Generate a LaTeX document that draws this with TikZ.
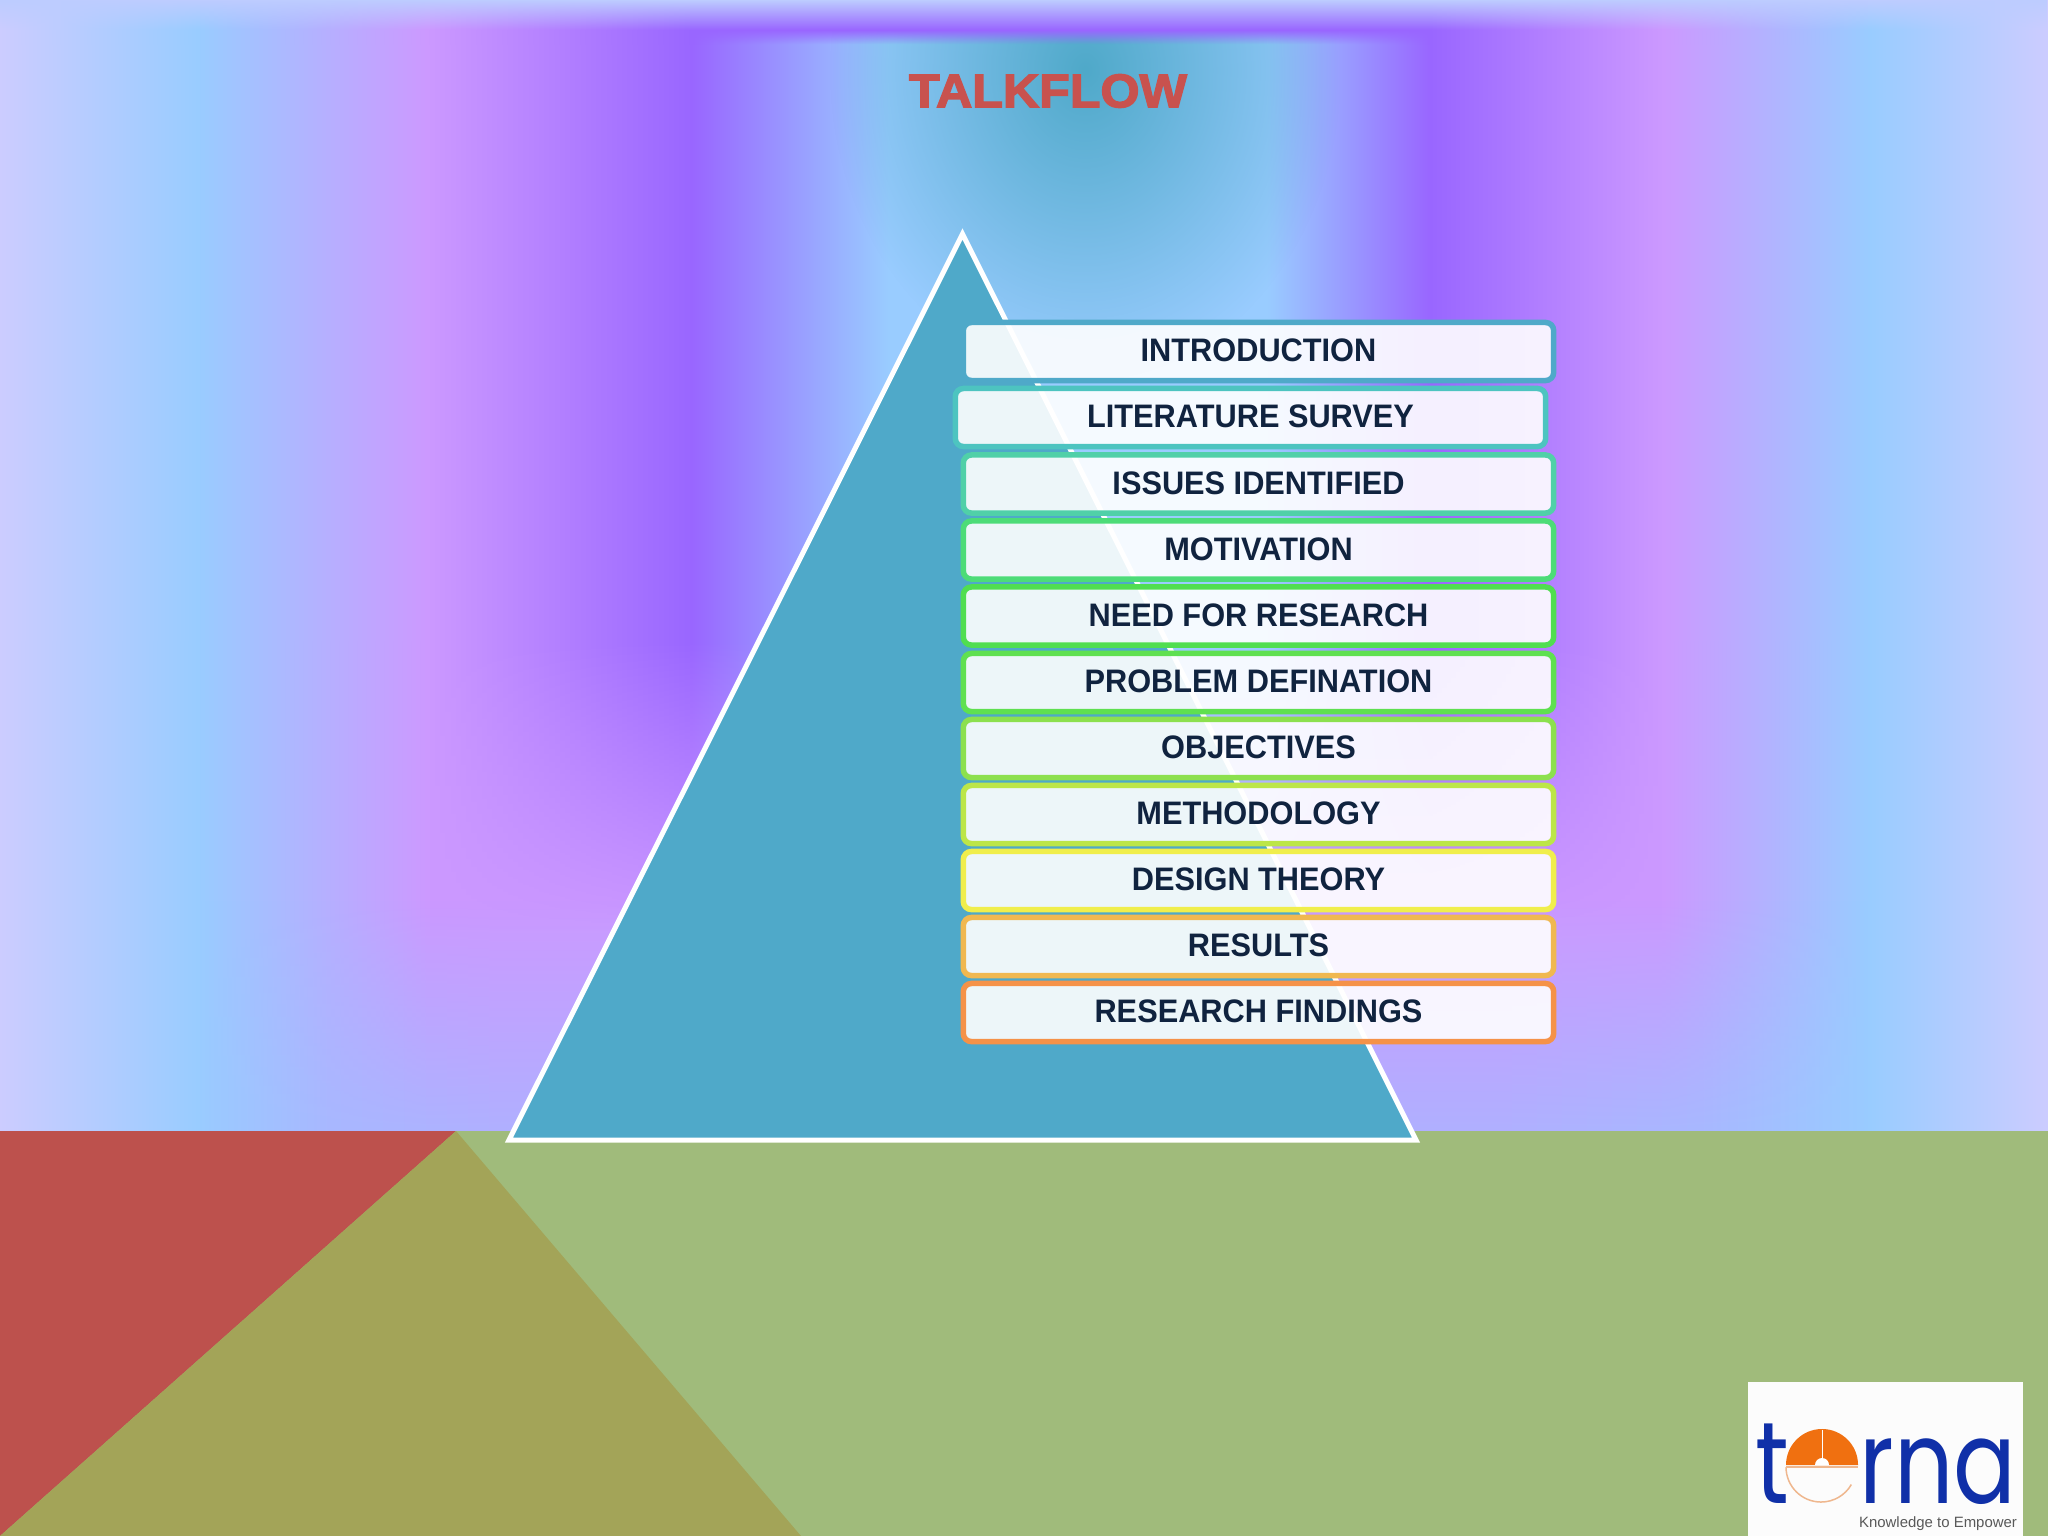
\documentclass[tikz,border=0pt]{standalone}
\usepackage{fontspec}
\setmainfont{Liberation Sans}
\newfontfamily\rowfont[FakeStretch=0.945]{Liberation Sans Bold}
\newfontfamily\heavyfont[FakeBold=3,FakeStretch=1.065]{Liberation Sans Bold}
\newfontfamily\logofont[FakeStretch=0.8]{Poppins}
\usepackage{tikz}
\usetikzlibrary{fadings}
\usepackage{xcolor}

\definecolor{wallpale}{HTML}{CCCCFF}
\definecolor{wallblue}{HTML}{99CCFF}
\definecolor{wallpink}{HTML}{CC99FF}
\definecolor{wallviolet}{HTML}{9966FF}
\definecolor{wallhaze}{HTML}{B0B0FF}
\definecolor{wallmist}{HTML}{A8B8FF}
\definecolor{seafill}{HTML}{4FA9C9}
\definecolor{turfgreen}{HTML}{A0BB7B}
\definecolor{wedgered}{HTML}{BD514D}
\definecolor{wedgeolive}{HTML}{A3A458}
\definecolor{titlered}{HTML}{C8524E}
\definecolor{rowink}{HTML}{10233F}
\definecolor{logoblue}{HTML}{1030A8}
\definecolor{logoorange}{HTML}{F07010}
\definecolor{logopeach}{HTML}{EFB78E}

% stops sit between 25bp and 75bp, the part that fits the path
\pgfdeclarehorizontalshading{wallshade}{100bp}{
  color(0bp)=(wallpale); color(25bp)=(wallpale); color(29.83bp)=(wallblue);
  color(35.42bp)=(wallpink); color(41.89bp)=(wallviolet); color(46.68bp)=(wallblue);
  color(55.93bp)=(wallblue); color(59.91bp)=(wallviolet); color(65.62bp)=(wallpink);
  color(70.65bp)=(wallblue); color(75bp)=(wallpale); color(100bp)=(wallpale)}
\pgfdeclarehorizontalshading{midshade}{100bp}{
  color(0bp)=(wallpale); color(25bp)=(wallpale); color(29.83bp)=(wallblue);
  color(35.42bp)=(wallpink); color(65.62bp)=(wallpink);
  color(70.65bp)=(wallblue); color(75bp)=(wallpale); color(100bp)=(wallpale)}
\pgfdeclarehorizontalshading{floorshade}{100bp}{
  color(0bp)=(wallpale); color(25bp)=(wallpale); color(29.83bp)=(wallblue);
  color(33.06bp)=(wallmist); color(37.2bp)=(wallhaze); color(61.6bp)=(wallhaze);
  color(66.5bp)=(wallmist); color(70.65bp)=(wallblue); color(75bp)=(wallpale); color(100bp)=(wallpale)}
\pgfdeclarehorizontalshading{bandshade}{100bp}{
  color(0bp)=(wallpale); color(25bp)=(wallpale); color(29.83bp)=(wallblue);
  color(35.42bp)=(wallpink); color(41.89bp)=(wallviolet);
  color(59.91bp)=(wallviolet); color(65.62bp)=(wallpink);
  color(70.65bp)=(wallblue); color(75bp)=(wallpale); color(100bp)=(wallpale)}
\tikzfading[name=fadeup, top color=transparent!100, bottom color=transparent!0]
\tikzfading[name=fadedown, top color=transparent!0, bottom color=transparent!100]
\tikzfading[name=fadeglow, inner color=transparent!0, outer color=transparent!100]

\begin{document}
\begin{tikzpicture}[
  x=0.01cm,y=-0.01cm,
  talkrow/.style={rounded corners=0.08cm,fill=white,fill opacity=0.9,text opacity=1,
                  line width=0.055cm,minimum width=5.9cm,minimum height=0.58cm,
                  inner sep=0pt,text height=6.7pt,text depth=1pt,text=rowink,
                  font=\fontsize{9.25}{11}\selectfont\rowfont},
  title/.style={text=titlered,inner sep=0pt,font=\fontsize{13.4}{16}\selectfont\heavyfont},
  logotext/.style={text=logoblue,inner sep=0pt,anchor=base west,font=\fontsize{33}{36}\selectfont\logofont},
]
\useasboundingbox (0,0) rectangle (2048,1536);
\clip (0,0) rectangle (2048,1536);
% ---------- wall ----------
\shade[shading=wallshade] (0,0) rectangle (2048,1132);
\fill[seafill,path fading=fadeglow] (830,-240) rectangle (1340,380);
\shade[shading=midshade,path fading=fadeup] (0,640) rectangle (2048,930);
\shade[shading=midshade] (0,930) rectangle (2048,1132);
\shade[shading=floorshade,path fading=fadeup] (0,900) rectangle (2048,1132);
% violet band along the top
\shade[shading=bandshade] (0,0) rectangle (2048,30);
\shade[shading=bandshade,path fading=fadedown] (0,30) rectangle (2048,44);
\fill[wallpale!70!wallblue,path fading=fadedown] (0,0) rectangle (2048,30);
% ---------- floor ----------
\fill[turfgreen] (0,1131) rectangle (2048,1536);
\fill[wedgered] (0,1131) -- (456,1131) -- (0,1536) -- cycle;
\fill[wedgeolive] (456,1131) -- (0,1536) -- (801,1536) -- cycle;
% ---------- pyramid ----------
\coordinate (peak) at (962.5,234);
\coordinate (baseleft) at (509,1140);
\coordinate (baseright) at (1416,1140);
\draw[white,fill=seafill,line width=0.05cm] (peak) -- (baseleft) -- (baseright) -- cycle;
\node[title] (talkflow) at (1048,91) {TALKFLOW};
% ---------- topics ----------
\node[talkrow,draw={rgb,255:red,79;green,169;blue,201}] (intro) at (1258.5,351.5) {INTRODUCTION};
\node[talkrow,draw={rgb,255:red,77;green,196;blue,192}] (survey) at (1250.5,417.5) {LITERATURE SURVEY};
\node[talkrow,draw={rgb,255:red,80;green,208;blue,168}] (issues) at (1258.5,484) {ISSUES IDENTIFIED};
\node[talkrow,draw={rgb,255:red,77;green,220;blue,120}] (motive) at (1258.5,550) {MOTIVATION};
\node[talkrow,draw={rgb,255:red,80;green,222;blue,80}] (need) at (1258.5,616) {NEED FOR RESEARCH};
\node[talkrow,draw={rgb,255:red,95;green,224;blue,80}] (problem) at (1258.5,682.5) {PROBLEM DEFINATION};
\node[talkrow,draw={rgb,255:red,140;green,224;blue,78}] (objective) at (1258.5,748.5) {OBJECTIVES};
\node[talkrow,draw={rgb,255:red,188;green,230;blue,72}] (method) at (1258.5,814.5) {METHODOLOGY};
\node[talkrow,draw={rgb,255:red,240;green,238;blue,76}] (design) at (1258.5,880.5) {DESIGN THEORY};
\node[talkrow,draw={rgb,255:red,240;green,184;blue,80}] (results) at (1258.5,946.5) {RESULTS};
\node[talkrow,draw={rgb,255:red,245;green,146;blue,72}] (findings) at (1258.5,1012.5) {RESEARCH FINDINGS};
% ---------- logo ----------
\fill[white!99!black] (1748,1382) rectangle (2023,1536);
\node[logotext] (logot) at (1755,1503) {t};
\node[logotext] (logorn) at (1859,1503) {rna};
\fill[logoorange] (1786,1465) arc[start angle=180,end angle=0,radius=0.36cm] -- cycle;
\draw[logopeach,line width=0.015cm] (1786,1467) -- (1858,1467);
\draw[logopeach,line width=0.015cm] (1786,1467) arc[start angle=180,end angle=330,radius=0.35cm];
\fill[white] (1815,1465) arc[start angle=180,end angle=0,radius=0.07cm] -- cycle;
\draw[white,line width=0.01cm] (1822,1430) -- (1822,1458);
\node[inner sep=0pt,text=black!65,font=\fontsize{4.25}{5}\selectfont] (motto) at (1938,1524) {Knowledge to Empower};
\end{tikzpicture}
\end{document}
